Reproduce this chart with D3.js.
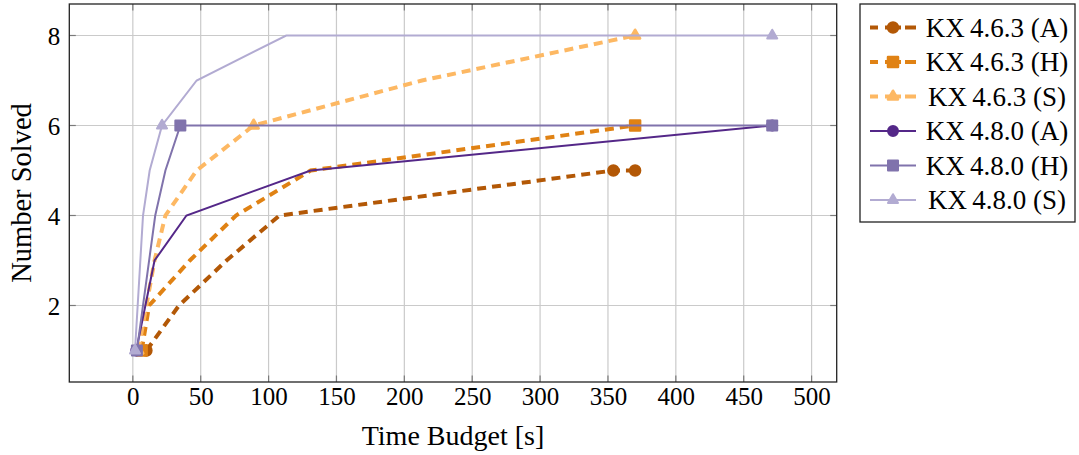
<!DOCTYPE html>
<html>
<head>
<meta charset="utf-8">
<script src="https://cdn.jsdelivr.net/npm/d3@7"></script>
<style>
  html, body { margin: 0; padding: 0; background: #fff; }
  svg { display: block; }
  text { font-family: "Liberation Serif", "DejaVu Serif", serif; fill: #000; }
</style>
</head>
<body>
<svg id="chart" width="1079" height="455"></svg>
<script>
// ---------- data ----------
const xTicks = [0, 50, 100, 150, 200, 250, 300, 350, 400, 450, 500];
const yTicks = [2, 4, 6, 8];
const xLabel = "Time Budget [s]";
const yLabel = "Number Solved";

const seriesNames = ["KX\u20094.6.3 (A)", "KX\u20094.6.3 (H)", "KX\u20094.6.3 (S)",
                     "KX\u20094.8.0 (A)", "KX\u20094.8.0 (H)", "KX\u20094.8.0 (S)"];

const time463A = [10, 34, 69, 108, 354, 370];
const solved463A = [1, 2, 3, 4, 5, 5];
const time463H = [6.5, 12, 42, 76, 131, 370];
const solved463H = [1, 2, 3, 4, 5, 6];
const time463S = [4, 10, 16, 24, 47, 89, 213, 370];
const solved463S = [1, 2, 3, 4, 5, 6, 7, 8];
const time480A = [2.5, 16, 39.5, 131, 471];
const solved480A = [1, 3, 4, 5, 6];
const time480H = [3, 16.5, 24, 35, 471];
const solved480H = [1, 4, 5, 6, 6];
const time480S = [1.6, 7.5, 12.4, 21.5, 47, 113, 471];
const solved480S = [1, 4, 5, 6, 7, 8, 8];

// indices of points that carry a marker
const marks463A = [0, 4, 5];
const marks463H = [0, 5];
const marks463S = [0, 5, 7];
const marks480A = [0, 4];
const marks480H = [0, 3, 4];
const marks480S = [0, 3, 6];

// ---------- styles ----------
const styles = [
  { color: "#b35806", dashed: true,  shape: "circle" },
  { color: "#e08214", dashed: true,  shape: "square" },
  { color: "#fdb863", dashed: true,  shape: "triangle" },
  { color: "#542788", dashed: false, shape: "circle" },
  { color: "#8073ac", dashed: false, shape: "square" },
  { color: "#b2abd2", dashed: false, shape: "triangle" }
];

const series = [
  { t: time463A, n: solved463A, m: marks463A },
  { t: time463H, n: solved463H, m: marks463H },
  { t: time463S, n: solved463S, m: marks463S },
  { t: time480A, n: solved480A, m: marks480A },
  { t: time480H, n: solved480H, m: marks480H },
  { t: time480S, n: solved480S, m: marks480S }
].map((s, i) => ({ name: seriesNames[i], ...styles[i],
  points: s.t.map((t, j) => ({ x: t, y: s.n[j], marked: s.m.includes(j) })) }));

// ---------- layout ----------
const svg = d3.select("#chart");
const plot = { left: 69.3, right: 836.7, top: 4, bottom: 382 };

const x = d3.scaleLinear().domain([-46.8, 518.5]).range([plot.left, plot.right]);
const y = d3.scaleLinear().domain([0.3, 8.7]).range([plot.bottom, plot.top]);

// grid
const grid = svg.append("g");
grid.selectAll("line.gx").data(xTicks).join("line")
  .attr("x1", d => x(d)).attr("x2", d => x(d))
  .attr("y1", plot.top).attr("y2", plot.bottom)
  .attr("stroke", "#cacaca").attr("stroke-width", 1.2);
grid.selectAll("line.gy").data(yTicks).join("line")
  .attr("y1", d => y(d)).attr("y2", d => y(d))
  .attr("x1", plot.left).attr("x2", plot.right)
  .attr("stroke", "#cacaca").attr("stroke-width", 1.2);

// inner ticks on all four sides
const tickLen = 6.5;
const tickCol = "#7a7a7a";
const ticks = svg.append("g").attr("stroke", tickCol).attr("stroke-width", 1.2);
xTicks.forEach(v => {
  ticks.append("line").attr("x1", x(v)).attr("x2", x(v)).attr("y1", plot.bottom).attr("y2", plot.bottom - tickLen);
  ticks.append("line").attr("x1", x(v)).attr("x2", x(v)).attr("y1", plot.top).attr("y2", plot.top + tickLen);
});
yTicks.forEach(v => {
  ticks.append("line").attr("y1", y(v)).attr("y2", y(v)).attr("x1", plot.left).attr("x2", plot.left + tickLen);
  ticks.append("line").attr("y1", y(v)).attr("y2", y(v)).attr("x1", plot.right).attr("x2", plot.right - tickLen);
});

// axes labels via d3 axes (no tick lines/domain)
const xAxis = svg.append("g").attr("transform", `translate(0,${plot.bottom})`)
  .call(d3.axisBottom(x).tickValues(xTicks).tickSize(0).tickPadding(0).tickFormat(d3.format("d")));
xAxis.attr("font-family", null);
xAxis.select(".domain").remove();
xAxis.selectAll("text").attr("y", 23).attr("dy", 0)
  .style("font-size", "25px").attr("fill", "#000");

const yAxis = svg.append("g").attr("transform", `translate(${plot.left},0)`)
  .call(d3.axisLeft(y).tickValues(yTicks).tickSize(0).tickPadding(0).tickFormat(d3.format("d")));
yAxis.attr("font-family", null);
yAxis.select(".domain").remove();
yAxis.selectAll("text").attr("x", -9).attr("dy", "0.34em")
  .style("font-size", "25px").attr("fill", "#000");

// axis titles
svg.append("text").attr("x", (plot.left + plot.right) / 2).attr("y", 445)
  .attr("text-anchor", "middle").style("font-size", "28px").text(xLabel);
svg.append("text")
  .attr("transform", `translate(31,${(plot.top + plot.bottom) / 2}) rotate(-90)`)
  .attr("text-anchor", "middle").style("font-size", "28.5px").text(yLabel);

// ---------- marks ----------
function markerPath(shape) {
  if (shape === "circle") return d3.symbol().type(d3.symbolCircle).size(Math.PI * 5 * 5)();
  if (shape === "square") return "M-5,-5H5V5H-5Z";
  const r = 5.8;
  return `M0,${-r}L${r * Math.cos(Math.PI / 6)},${r / 2}L${-r * Math.cos(Math.PI / 6)},${r / 2}Z`;
}

const line = d3.line().x(d => x(d.x)).y(d => y(d.y));
const plotArea = svg.append("g");
series.forEach(s => {
  const g = plotArea.append("g");
  g.append("path").datum(s.points).attr("d", line)
    .attr("fill", "none").attr("stroke", s.color)
    .attr("stroke-width", s.dashed ? 4 : 2)
    .attr("stroke-dasharray", s.dashed ? "9,6" : null)
    .attr("stroke-linejoin", "miter");
  g.selectAll("path.mk").data(s.points.filter(p => p.marked)).join("path")
    .attr("class", "mk")
    .attr("transform", d => `translate(${x(d.x)},${y(d.y)})`)
    .attr("d", markerPath(s.shape))
    .attr("fill", s.color).attr("stroke", s.color)
    .attr("stroke-width", s.dashed ? 2.5 : 2)
    .attr("stroke-linejoin", "round");
});

// axis box
svg.append("rect").attr("x", plot.left).attr("y", plot.top)
  .attr("width", plot.right - plot.left).attr("height", plot.bottom - plot.top)
  .attr("fill", "none").attr("stroke", "#222").attr("stroke-width", 1.3);

// ---------- legend ----------
const lg = svg.append("g");
lg.append("rect").attr("x", 860).attr("y", 4).attr("width", 215).attr("height", 218)
  .attr("fill", "#fff").attr("stroke", "#222").attr("stroke-width", 1.3);
series.forEach((s, i) => {
  const cy = 27.5 + i * 34.5;
  lg.append("line").attr("x1", 870).attr("x2", 916).attr("y1", cy).attr("y2", cy)
    .attr("stroke", s.color).attr("stroke-width", s.dashed ? 4 : 2)
    .attr("stroke-dasharray", s.dashed ? "8,7,16,4,11" : null);
  lg.append("path").attr("transform", `translate(893,${cy})`)
    .attr("d", markerPath(s.shape))
    .attr("fill", s.color).attr("stroke", s.color)
    .attr("stroke-width", s.dashed ? 2.5 : 2)
    .attr("stroke-linejoin", "round");
  lg.append("text").attr("x", 997).attr("y", cy).attr("dy", "0.35em")
    .attr("text-anchor", "middle").style("font-size", "27px").text(s.name);
});
</script>
</body>
</html>
